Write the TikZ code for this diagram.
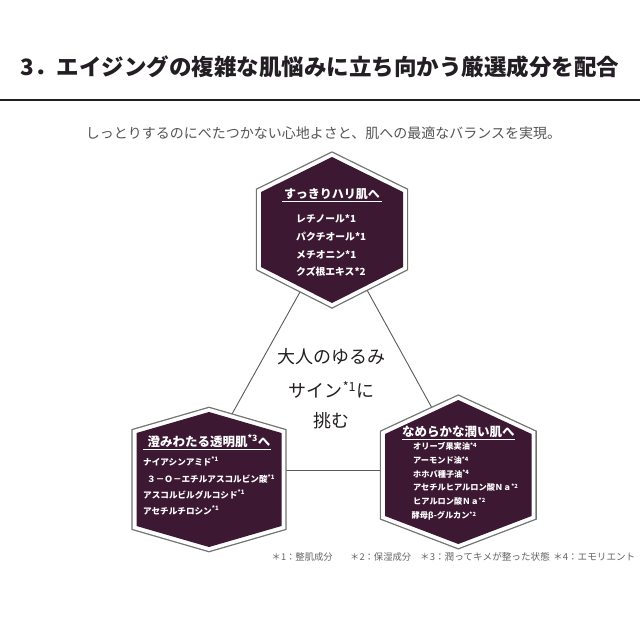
\documentclass[tikz,border=0pt]{standalone}
\usepackage{fontspec}
\setmainfont{Noto Sans CJK JP}
\definecolor{hexfill}{RGB}{60,24,50}
\definecolor{hexline}{RGB}{115,115,115}
\definecolor{conn}{RGB}{90,90,90}
\definecolor{titlec}{RGB}{35,30,35}
\definecolor{subc}{RGB}{85,85,85}
\definecolor{footc}{RGB}{100,100,100}
\tikzset{
  hexbox/.style={fill=hexfill,
    preaction={draw=hexline,line width=10.3},
    preaction={draw=white,line width=7.7}},
  hextitle/.style={text=white,inner sep=0pt},
  hexitem/.style={text=white,anchor=west,inner sep=0pt},
  uline/.style={draw=white,line width=0.8},
  connector/.style={draw=conn,line width=0.9},
  footnote/.style={anchor=west,inner sep=0pt,text=footc},
}
\newcommand\hexa[6]{%
  \path[hexbox] (#1,#2) -- (#1+#6,#3) -- (#1+#6,#4) -- (#1,#5) -- (#1-#6,#4) -- (#1-#6,#3) -- cycle;}
\newcommand\supx[1]{\textsuperscript{#1}}
\begin{document}
\begin{tikzpicture}[x=1pt,y=-1pt]
\useasboundingbox (0,0) rectangle (640,640);
\fill[white] (0,0) rectangle (640,640);

% heading
\node[font=\fontsize{22.5}{26}\selectfont\bfseries,text=titlec] (title) at (320,67) {3．エイジングの複雑な肌悩みに立ち向かう厳選成分を配合};
\coordinate (ruleL) at (0,100);
\coordinate (ruleR) at (640,100);
\draw[titlec,line width=1.5] (ruleL) -- (ruleR);
\node[font=\fontsize{14}{16}\selectfont,text=subc] (sub) at (323.5,133) {しっとりするのにべたつかない心地よさと、肌への最適なバランスを実現。};

% connectors
\coordinate (tA) at (300,292);
\coordinate (lA) at (232,414);
\coordinate (tB) at (367,290);
\coordinate (rB) at (432,408);
\coordinate (lC) at (286,470);
\coordinate (rC) at (380.5,470);
\draw[connector] (tA) -- (lA);
\draw[connector] (tB) -- (rB);
\draw[connector] (lC) -- (rC);

% hexagons
\hexa{332}{157}{192}{267}{303}{71}
\hexa{209}{412}{433}{526}{547}{72.5}
\hexa{458.3}{400}{434}{516}{544}{73.3}

% centre text
\begin{scope}[every node/.style={font=\fontsize{18}{20}\selectfont,text=titlec}]
\node (c1) at (331.5,357) {大人のゆるみ};
\node (c2) at (331.5,390) {サイン\supx{*1}に};
\node (c3) at (331.5,421) {挑む};
\end{scope}

% top hexagon text
\node[hextitle,font=\fontsize{12}{14}\selectfont\bfseries] (tt) at (332,194) {すっきりハリ肌へ};
\coordinate (tu1) at (282,201.5);
\coordinate (tu2) at (382,201.5);
\draw[uline] (tu1) -- (tu2);
\begin{scope}[every node/.style={hexitem,font=\fontsize{9.8}{11}\selectfont\bfseries}]
\node (t1) at (296,219) {レチノール*1};
\node (t2) at (296,237) {パクチオール*1};
\node (t3) at (296,255) {メチオニン*1};
\node (t4) at (296,272) {クズ根エキス*2};
\end{scope}

% left hexagon text
\node[hextitle,font=\fontsize{12.5}{14}\selectfont\bfseries] (lt) at (209,441) {澄みわたる透明肌\supx{*3}へ};
\coordinate (lu1) at (143,449.5);
\coordinate (lu2) at (271,449.5);
\draw[uline] (lu1) -- (lu2);
\begin{scope}[every node/.style={hexitem,font=\fontsize{8.6}{10}\selectfont\bfseries}]
\node (l1) at (143,461) {ナイアシンアミド\supx{*1}};
\node (l2) at (147,479) {３－Ｏ－エチルアスコルビン酸\supx{*1}};
\node (l3) at (143,494.5) {アスコルビルグルコシド\supx{*1}};
\node (l4) at (143,510) {アセチルチロシン\supx{*1}};
\end{scope}

% right hexagon text
\node[hextitle,font=\fontsize{12.5}{14}\selectfont\bfseries] (rt) at (458.3,431.5) {なめらかな潤い肌へ};
\coordinate (ru1) at (402,439) ;
\coordinate (ru2) at (515,439);
\draw[uline] (ru1) -- (ru2);
\begin{scope}[every node/.style={hexitem,font=\fontsize{8.2}{10}\selectfont\bfseries}]
\node (r1) at (413,446.5) {オリーブ果実油\supx{*4}};
\node (r2) at (413,460.5) {アーモンド油\supx{*4}};
\node (r3) at (413,474) {ホホバ種子油\supx{*4}};
\node (r4) at (413,487.5) {アセチルヒアルロン酸Ｎａ\supx{*2}};
\node (r5) at (413,501.5) {ヒアルロン酸Ｎａ\supx{*2}};
\node (r6) at (411.5,516) {酵母β-グルカン\supx{*2}};
\end{scope}

% footnotes
\node[footnote,font=\fontsize{9.3}{11}\selectfont] (f1) at (271.5,557) {＊1：整肌成分};
\node[footnote,font=\fontsize{9.3}{11}\selectfont] (f2) at (350,557) {＊2：保湿成分};
\node[footnote,font=\fontsize{9.6}{11}\selectfont] (f3) at (420,557) {＊3：潤ってキメが整った状態};
\node[footnote,font=\fontsize{9.6}{11}\selectfont] (f4) at (553,557) {＊4：エモリエント};
\end{tikzpicture}
\end{document}
